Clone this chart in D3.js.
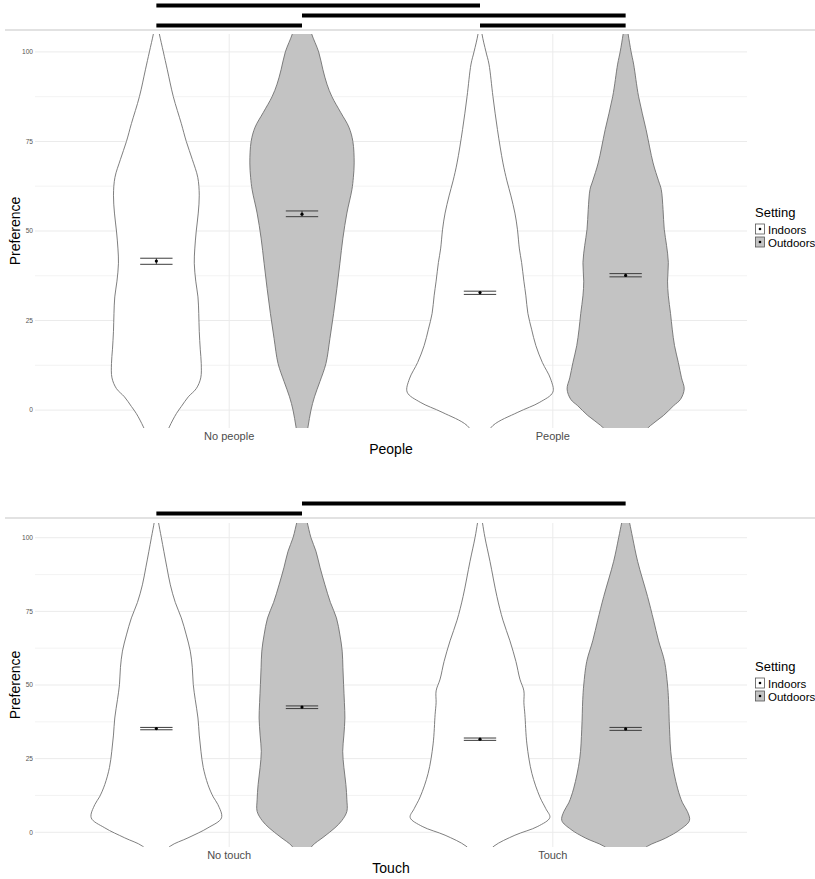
<!DOCTYPE html>
<html>
<head>
<meta charset="utf-8">
<script src="https://cdn.jsdelivr.net/npm/d3@7"></script>
<style>
  body { margin: 0; background: #fff; }
  svg { display: block; font-family: "Liberation Sans", Arial, sans-serif; }
</style>
</head>
<body>
<svg id="chart" width="815" height="879"></svg>
<script>
// ---------------- DATA ----------------
const settings = ["Indoors", "Outdoors"];
const yTicks = [0, 25, 50, 75, 100];
const yMinorTicks = [12.5, 37.5, 62.5, 87.5];

// Panel 1: People
const peopleCategories = ["No people", "People"];
// [Preference value, relative density (73 = widest violin)]
const densNoPeopleIndoors = [[108,1],[105,3],[100,7],[95,11],[87.5,17],[80,25],[75,30],[70,36],[65,41.5],[60,43],[55,42],[50,40],[45,38.5],[41,38],[36,39.5],[31.6,41.7],[27,42.5],[22,43],[17,44],[13,45],[9,44.5],[6,40],[3.7,32],[1,25],[-1,20],[-4.7,13],[-8,8]];
const densNoPeopleOutdoors = [[108,7],[105,9.7],[100,16.7],[95,21],[91,25],[87.5,30],[83,39],[79,47],[75,51],[69,52.3],[65,51.5],[61.5,50],[55,45],[48,41],[41,38],[34,35],[27,31.7],[20,28],[13,24],[8,18],[3.7,12.5],[0,9],[-4.7,6],[-8,4]];
const densPeopleIndoors = [[108,1],[105,2],[100,6],[96.6,9],[87.5,13],[78.3,17.5],[69,23],[64,27],[59.8,31],[55,35],[50.5,37.5],[45,39.5],[41.2,41.7],[36,44],[31.9,46],[27,48],[22.6,51.7],[18,56],[13.3,62.5],[8.7,70.8],[5,73],[2.2,60],[-0.6,38],[-4.3,13],[-8,4]];
const densPeopleOutdoors = [[108,1],[105,2.5],[100,5.5],[96.6,8],[87.5,13],[78.3,20.5],[69,27.5],[64,33],[61.6,35.7],[56,37.5],[50.5,38.7],[46,41],[41.2,42.8],[36,42],[31.9,42.8],[27,45],[22.6,46.7],[18,49],[13.3,52.8],[9,56],[5.9,58.7],[3,55],[1.2,48],[-1.5,38],[-4.3,25],[-8,12]];
const peopleMeans = [41.6, 54.7, 32.8, 37.6];
const peopleCiLow = [40.7, 54.0, 32.3, 37.2];
const peopleCiHigh = [42.4, 55.6, 33.2, 38.1];
// significance brackets: [group a, group b, row]
const peopleSig = [[0, 1, 0], [2, 3, 0], [1, 3, 1], [0, 2, 2]];

// Panel 2: Touch
const touchCategories = ["No touch", "Touch"];
const densNoTouchIndoors = [[108,1],[105.5,2],[100,5],[95.4,7.5],[90,10.5],[84,14],[78,19],[72.8,25],[67,30],[61.5,34],[56,36],[50.1,37],[45,39],[38.8,41.7],[33,43],[27.5,44.7],[22,47],[16.2,51.7],[12,57],[9.4,61.7],[4.9,65.3],[1.5,51.7],[-1.9,31.7],[-4.7,14],[-8,5]];
const densNoTouchOutdoors = [[108,3],[105.5,5],[100,9],[95.4,14],[90,18],[84,23],[78,28.5],[72.8,34.5],[67,38],[61.5,40.3],[56,41],[50.1,41.7],[44,42.5],[38.8,43],[33,42],[27.5,40.8],[22,42],[16.2,44],[11,45],[7.1,45],[4,40],[1.5,33],[-1.5,22],[-4.7,10],[-8,4]];
const densTouchIndoors = [[108,1],[105,2.5],[100,5],[92,10],[80,17],[72,23],[65,30],[58,36],[52,40],[48,44],[44,44],[40,45],[30,47],[20,52],[12,60],[8,66],[5,70],[2,58],[-1,35],[-4.7,14],[-8,5]];
const densTouchOutdoors = [[108,2],[105,4],[100,7],[92,12],[80,22],[72,28],[65,33],[58,39],[50,42],[45,43],[35,44],[25,46],[15,52],[10,57],[7,62],[4,64],[1,55],[-2,40],[-4.7,22],[-8,10]];
const touchMeans = [35.2, 42.5, 31.6, 35.1];
const touchCiLow = [34.8, 42.0, 31.2, 34.6];
const touchCiHigh = [35.6, 42.9, 32.0, 35.6];
const touchSig = [[0, 1, 0], [1, 3, 1]];

// ---------------- DRAW ----------------
const svg = d3.select("#chart");
const fills = { Indoors: "#ffffff", Outdoors: "#c3c3c3" };
const outline = "#707070";

function drawPanel(cfg) {
  const { top, bottom, sepY, categories, dens, means, ciLow, ciHigh, sig, xTitle, id } = cfg;
  const left = 35, right = 747;

  const x = d3.scaleLinear().domain([0.4, categories.length + 0.6]).range([left, right]);
  const y = d3.scaleLinear().domain([-5, 105]).range([bottom, top]);
  const dodge = 0.225;
  const w = d3.scaleLinear().domain([0, 73]).range([0, x(1.225) - x(1)]);

  const groups = [];
  categories.forEach((c, ci) => settings.forEach((s, si) => {
    groups.push({ cat: c, setting: s, cx: x(ci + 1 + (si === 0 ? -dodge : dodge)), dens: dens[ci * 2 + si] });
  }));

  // separator line
  svg.append("line").attr("x1", 5).attr("x2", 815).attr("y1", sepY).attr("y2", sepY)
    .attr("stroke", "#e2e2e2").attr("stroke-width", 2);

  const g = svg.append("g");
  // grid
  g.selectAll(".minor").data(yMinorTicks).enter().append("line")
    .attr("x1", left).attr("x2", right).attr("y1", d => y(d)).attr("y2", d => y(d))
    .attr("stroke", "#f0f0f0").attr("stroke-width", 0.8);
  g.selectAll(".major").data(yTicks).enter().append("line")
    .attr("x1", left).attr("x2", right).attr("y1", d => y(d)).attr("y2", d => y(d))
    .attr("stroke", "#ebebeb").attr("stroke-width", 1);
  g.selectAll(".vmajor").data(categories).enter().append("line")
    .attr("x1", (d, i) => x(i + 1)).attr("x2", (d, i) => x(i + 1)).attr("y1", top).attr("y2", bottom)
    .attr("stroke", "#ebebeb").attr("stroke-width", 1);

  // y tick labels
  g.selectAll(".ytl").data(yTicks).enter().append("text")
    .attr("x", 33).attr("y", d => y(d) + 2.3).attr("text-anchor", "end")
    .attr("font-size", 6.6).attr("fill", "#555").text(d => d);

  // clip
  svg.append("clipPath").attr("id", "clip" + id).append("rect")
    .attr("x", left).attr("y", top).attr("width", right - left).attr("height", bottom - top);

  const vg = svg.append("g").attr("clip-path", `url(#clip${id})`);
  groups.forEach(gr => {
    const a = d3.area()
      .y(d => y(d[0]))
      .x0(d => gr.cx - w(d[1]))
      .x1(d => gr.cx + w(d[1]))
      .curve(d3.curveCatmullRom.alpha(0.5));
    vg.append("path").datum(gr.dens).attr("d", a)
      .attr("fill", fills[gr.setting]).attr("stroke", outline).attr("stroke-width", 0.9);
  });

  // error bars + means
  const ebHalf = x(1.05) - x(1);
  groups.forEach((gr, i) => {
    [ciLow[i], ciHigh[i]].forEach(v => {
      svg.append("line").attr("x1", gr.cx - ebHalf).attr("x2", gr.cx + ebHalf)
        .attr("y1", y(v)).attr("y2", y(v)).attr("stroke", "#3c3c3c").attr("stroke-width", 1);
    });
    svg.append("line").attr("x1", gr.cx).attr("x2", gr.cx).attr("y1", y(ciLow[i])).attr("y2", y(ciHigh[i]))
      .attr("stroke", "#3c3c3c").attr("stroke-width", 1);
    svg.append("circle").attr("cx", gr.cx).attr("cy", y(means[i])).attr("r", 1.6).attr("fill", "#000");
  });

  // significance bars
  sig.forEach(([a, b, row]) => {
    const yy = sepY - 4.5 - row * 10;
    svg.append("line").attr("x1", groups[a].cx).attr("x2", groups[b].cx)
      .attr("y1", yy).attr("y2", yy).attr("stroke", "#000").attr("stroke-width", 4);
  });

  // x tick labels
  g.selectAll(".xtl").data(categories).enter().append("text")
    .attr("x", (d, i) => x(i + 1)).attr("y", bottom + 12).attr("text-anchor", "middle")
    .attr("font-size", 11).attr("fill", "#4d4d4d").text(d => d);
  // x title
  svg.append("text").attr("x", (left + right) / 2).attr("y", bottom + 26).attr("text-anchor", "middle")
    .attr("font-size", 14).attr("fill", "#000").text(xTitle);
  // y title
  const mid = (top + bottom) / 2;
  svg.append("text").attr("transform", `translate(20,${mid}) rotate(-90)`).attr("text-anchor", "middle")
    .attr("font-size", 14).attr("fill", "#000").text("Preference");

  // legend
  const lg = svg.append("g").attr("transform", `translate(755,${mid - 14})`);
  lg.append("text").attr("x", 0).attr("y", 0).attr("font-size", 13).attr("fill", "#000").text("Setting");
  settings.forEach((s, i) => {
    const ky = 7 + i * 13;
    lg.append("rect").attr("x", 0.5).attr("y", ky).attr("width", 9).attr("height", 10)
      .attr("fill", fills[s]).attr("stroke", "#555").attr("stroke-width", 0.8);
    lg.append("circle").attr("cx", 5).attr("cy", ky + 5).attr("r", 1.3).attr("fill", "#000");
    lg.append("text").attr("x", 13).attr("y", ky + 9.5).attr("font-size", 11.5).attr("fill", "#000").text(s);
  });
}

drawPanel({
  id: 1, top: 34, bottom: 428, sepY: 30, categories: peopleCategories,
  dens: [densNoPeopleIndoors, densNoPeopleOutdoors, densPeopleIndoors, densPeopleOutdoors],
  means: peopleMeans, ciLow: peopleCiLow, ciHigh: peopleCiHigh, sig: peopleSig, xTitle: "People"
});
drawPanel({
  id: 2, top: 523, bottom: 847, sepY: 518, categories: touchCategories,
  dens: [densNoTouchIndoors, densNoTouchOutdoors, densTouchIndoors, densTouchOutdoors],
  means: touchMeans, ciLow: touchCiLow, ciHigh: touchCiHigh, sig: touchSig, xTitle: "Touch"
});
</script>
</body>
</html>
